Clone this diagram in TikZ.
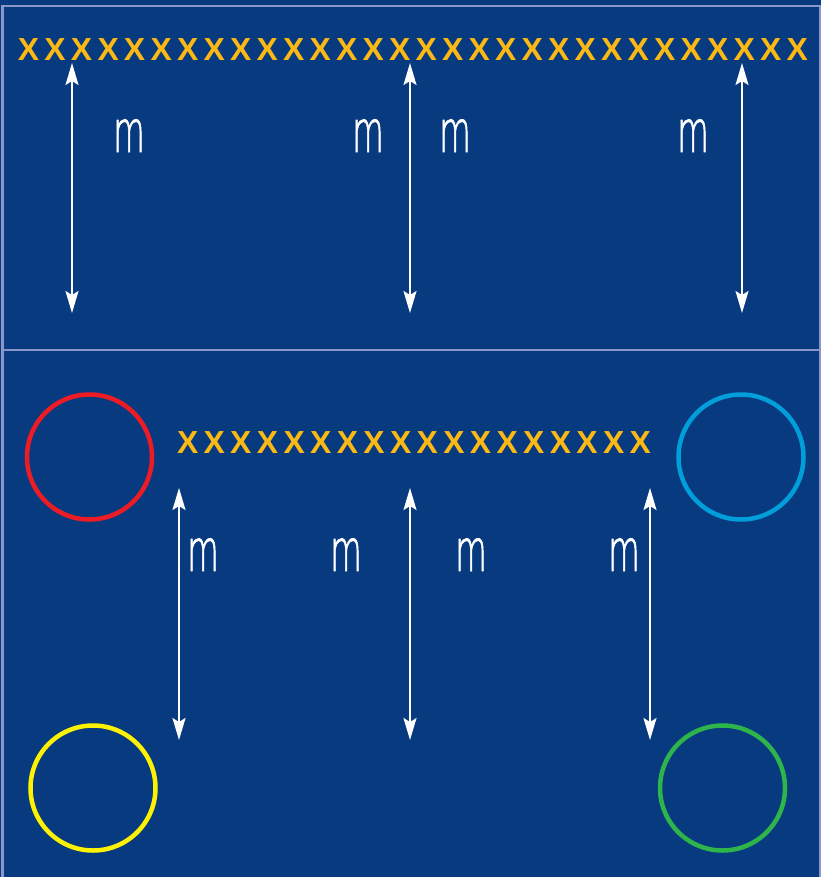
\documentclass[tikz,border=0pt]{standalone}
\usepackage{fontspec}
\setmainfont{Liberation Sans}
\newfontfamily\thinm{DejaVu Sans ExtraLight}[FakeBold=1.5,BoldFont=DejaVu Sans ExtraLight]
\usetikzlibrary{arrows.meta}
\definecolor{bg}{RGB}{8,58,128}
\definecolor{framec}{RGB}{138,150,200}
\definecolor{gold}{RGB}{253,185,19}
\definecolor{ringred}{RGB}{237,28,36}
\definecolor{ringblue}{RGB}{0,158,218}
\definecolor{ringyellow}{RGB}{255,242,0}
\definecolor{ringgreen}{RGB}{45,180,75}
\newcommand{\xrow}[2]{\makebox[#1]{X\foreach \i in {2,...,#2}{\hfill X}}}
\newcommand{\mglyph}{\scalebox{1.08}[1.95]{m}}
\begin{document}
\begin{tikzpicture}[x=1bp,y=-1bp,
  xtext/.style={text=gold,font=\fontsize{32}{32}\selectfont\bfseries,inner sep=0pt,anchor=base},
  mlabel/.style={text=white,inner sep=0pt,anchor=base,font=\thinm\bfseries\fontsize{30}{30}\selectfont},
  dim/.style={white,line width=2bp,{Stealth[length=22bp,width=13bp,inset=4bp]}-{Stealth[length=22bp,width=13bp,inset=4bp]}},
  ring/.style={circle,line width=4.5bp,minimum size=125bp,inner sep=0pt},
  framel/.style={framec,line width=2bp}]
\fill[bg] (0,0) rectangle (821,877);
\useasboundingbox (0,0) rectangle (821,877);
% frame
\draw[framel] (2.5,878) -- (2.5,5.5) -- (820,5.5) -- (820,878);
\draw[framel] (2.5,349.5) -- (820,349.5);
% top row of X
\node[xtext] (toprow) at (413,60) {\xrow{790bp}{30}};
% top arrows
\coordinate (t1a) at (72,63);  \coordinate (t1b) at (72,313);
\coordinate (t2a) at (410,63); \coordinate (t2b) at (410,313);
\coordinate (t3a) at (742,63); \coordinate (t3b) at (742,313);
\draw[dim] (t1a) -- (t1b);
\draw[dim] (t2a) -- (t2b);
\draw[dim] (t3a) -- (t3b);
% top labels
\node[mlabel] (m1) at (129,152) {\mglyph};
\node[mlabel] (m2) at (368,152) {\mglyph};
\node[mlabel] (m3) at (455,152) {\mglyph};
\node[mlabel] (m4) at (693,152) {\mglyph};
% bottom row of X
\node[xtext] (botrow) at (414,453) {\xrow{474bp}{18}};
% bottom arrows
\coordinate (b1a) at (179,488); \coordinate (b1b) at (179,740);
\coordinate (b2a) at (410,488); \coordinate (b2b) at (410,740);
\coordinate (b3a) at (650,488); \coordinate (b3b) at (650,740);
\draw[dim] (b1a) -- (b1b);
\draw[dim] (b2a) -- (b2b);
\draw[dim] (b3a) -- (b3b);
% bottom labels
\node[mlabel] (m5) at (203,571) {\mglyph};
\node[mlabel] (m6) at (346,571) {\mglyph};
\node[mlabel] (m7) at (471,571) {\mglyph};
\node[mlabel] (m8) at (624,571) {\mglyph};
% rings
\node[ring,draw=ringred] (red) at (89.5,457) {};
\node[ring,draw=ringblue] (blue) at (741,457) {};
\node[ring,draw=ringyellow] (yellow) at (93,788) {};
\node[ring,draw=ringgreen] (green) at (722.5,788) {};
\end{tikzpicture}
\end{document}
